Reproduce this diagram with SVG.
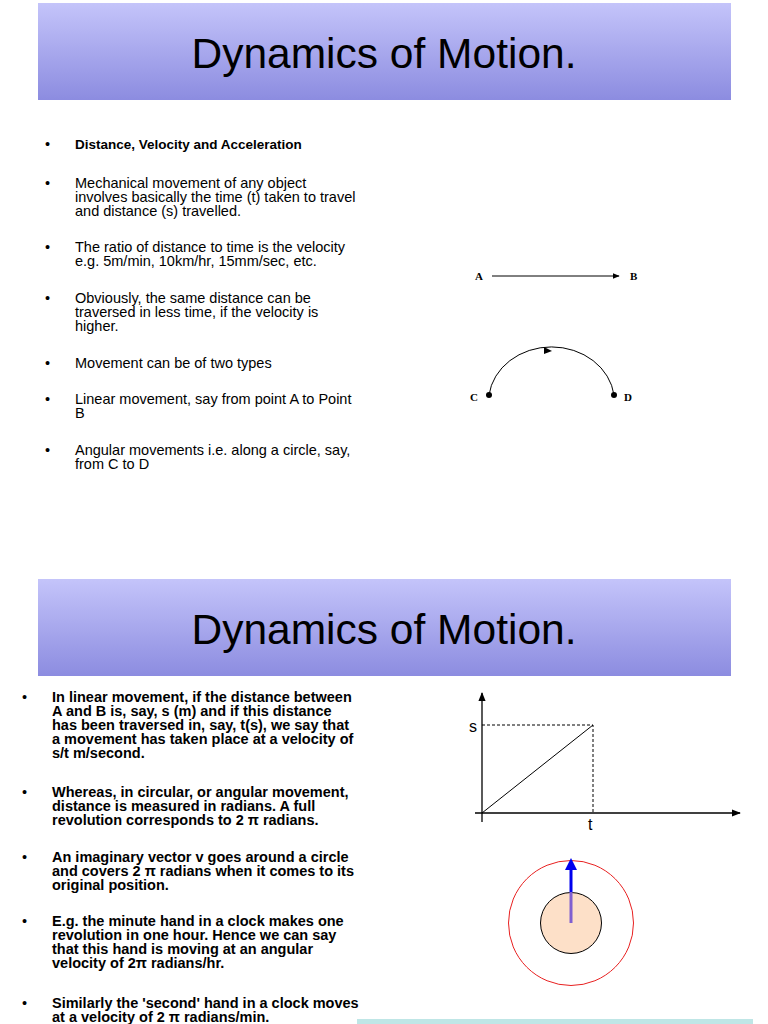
<svg xmlns="http://www.w3.org/2000/svg" width="768" height="1024" viewBox="0 0 768 1024">
<defs>
<linearGradient id="hg" x1="0" y1="0" x2="0" y2="1"><stop offset="0" stop-color="#c4c4fa"/><stop offset="1" stop-color="#8c8ce0"/></linearGradient>
<marker id="ah" viewBox="0 0 10 10" refX="9" refY="5" markerWidth="7" markerHeight="7" orient="auto"><path d="M0,1L10,5L0,9z" fill="#000"/></marker>
<marker id="bh" viewBox="0 0 10 10" refX="5" refY="5" markerWidth="4" markerHeight="4" orient="auto"><path d="M0,0L10,5L0,10z" fill="#0000ee"/></marker>
<style>
.t{font-family:"Liberation Sans",Arial,sans-serif;font-size:14.5px;fill:#000}
.b{font-family:"Liberation Sans",Arial,sans-serif;font-size:14.5px;font-weight:bold;fill:#000}
.h{font-family:"Liberation Sans",Arial,sans-serif;font-size:42.5px;fill:#000}
.s{font-family:"Liberation Serif",serif;font-size:11px;font-weight:bold}
.ln{stroke:#000;fill:none}
</style>
</defs>
<rect width="768" height="1024" fill="#fff"/>
<g id="header1"><rect x="38" y="3" width="693" height="97" fill="url(#hg)"/><text class="h" x="384" y="68" text-anchor="middle">Dynamics of Motion.</text></g>
<g id="text1">
<text class="t" x="45" y="149">•</text><text class="b" x="75" y="149" style="font-size:13.5px">Distance, Velocity and Acceleration</text>
<text class="t" x="45" y="188">•</text><text class="t" x="75" y="188">Mechanical movement of any object</text><text class="t" x="75" y="202">involves basically the time (t) taken to travel</text><text class="t" x="75" y="216">and distance (s) travelled.</text>
<text class="t" x="45" y="252">•</text><text class="t" x="75" y="252">The ratio of distance to time is the velocity</text><text class="t" x="75" y="266">e.g. 5m/min, 10km/hr, 15mm/sec, etc.</text>
<text class="t" x="45" y="303">•</text><text class="t" x="75" y="303">Obviously, the same distance can be</text><text class="t" x="75" y="317">traversed in less time, if the velocity is</text><text class="t" x="75" y="331">higher.</text>
<text class="t" x="45" y="368">•</text><text class="t" x="75" y="368">Movement can be of two types</text>
<text class="t" x="45" y="404">•</text><text class="t" x="75" y="404">Linear movement, say from point A to Point</text><text class="t" x="75" y="418">B</text>
<text class="t" x="45" y="455">•</text><text class="t" x="75" y="455">Angular movements i.e. along a circle, say,</text><text class="t" x="75" y="469">from C to D</text>
</g>
<g id="ab"><text class="s" x="475" y="280">A</text><text class="s" x="630" y="280">B</text><line class="ln" x1="492" y1="276" x2="619" y2="276" marker-end="url(#ah)"/></g>
<g id="cd"><text class="s" x="470" y="401">C</text><text class="s" x="624" y="401">D</text><path class="ln" d="M489,395 A63,55 0 0 1 614,395"/><path d="M544,347L552,351L544,354z" fill="#000"/><circle cx="489" cy="395" r="3"/><circle cx="614" cy="395" r="3"/></g>
<g id="header2"><rect x="38" y="579" width="693" height="97" fill="url(#hg)"/><text class="h" x="384" y="644" text-anchor="middle">Dynamics of Motion.</text></g>
<g id="text2">
<text class="t" x="22" y="702">•</text><text class="b" x="52" y="702">In linear movement, if the distance between</text><text class="b" x="52" y="716">A and B is, say, s (m) and if this distance</text><text class="b" x="52" y="730">has been traversed in, say, t(s), we say that</text><text class="b" x="52" y="744">a movement has taken place at a velocity of</text><text class="b" x="52" y="758">s/t  m/second.</text>
<text class="t" x="22" y="797">•</text><text class="b" x="52" y="797">Whereas, in circular, or angular movement,</text><text class="b" x="52" y="811">distance is measured in radians. A full</text><text class="b" x="52" y="825">revolution corresponds to 2 π radians.</text>
<text class="t" x="22" y="862">•</text><text class="b" x="52" y="862">An imaginary vector v goes around a circle</text><text class="b" x="52" y="876">and covers 2 π radians when it comes to its</text><text class="b" x="52" y="890">original position.</text>
<text class="t" x="22" y="926">•</text><text class="b" x="52" y="926">E.g. the minute hand in a clock makes one</text><text class="b" x="52" y="940">revolution in one hour. Hence we can say</text><text class="b" x="52" y="954">that this hand is moving at an angular</text><text class="b" x="52" y="968">velocity of 2π radians/hr.</text>
<text class="t" x="22" y="1008">•</text><text class="b" x="52" y="1008">Similarly the 'second' hand in a clock moves</text><text class="b" x="52" y="1022">at a velocity of 2 π radians/min.</text>
</g>
<g id="graph">
<line class="ln" x1="482" y1="822" x2="482" y2="693" stroke-width="1.3" marker-end="url(#ah)"/>
<line class="ln" x1="475" y1="813" x2="740" y2="813" stroke-width="1.3" marker-end="url(#ah)"/>
<line class="ln" x1="482" y1="813" x2="593" y2="725" stroke="#333"/>
<path class="ln" d="M482,725H593V813" stroke-dasharray="3,2"/>
<text class="t" x="469" y="732" style="font-size:16px">s</text><text class="t" x="588" y="830" style="font-size:16px">t</text>
</g>
<g id="clock">
<circle cx="571" cy="923" r="62.5" fill="none" stroke="#e82020"/>
<circle cx="571" cy="923" r="30.5" fill="#fde0c8" stroke="#000"/>
<line x1="571" y1="923" x2="571" y2="892" stroke="#8060d0" stroke-width="3"/>
<line x1="571" y1="892" x2="571" y2="864" stroke="#0000ee" stroke-width="3" marker-end="url(#bh)"/>
</g>
<rect x="357" y="1019" width="396" height="5" fill="#bfe6e6"/>
</svg>
